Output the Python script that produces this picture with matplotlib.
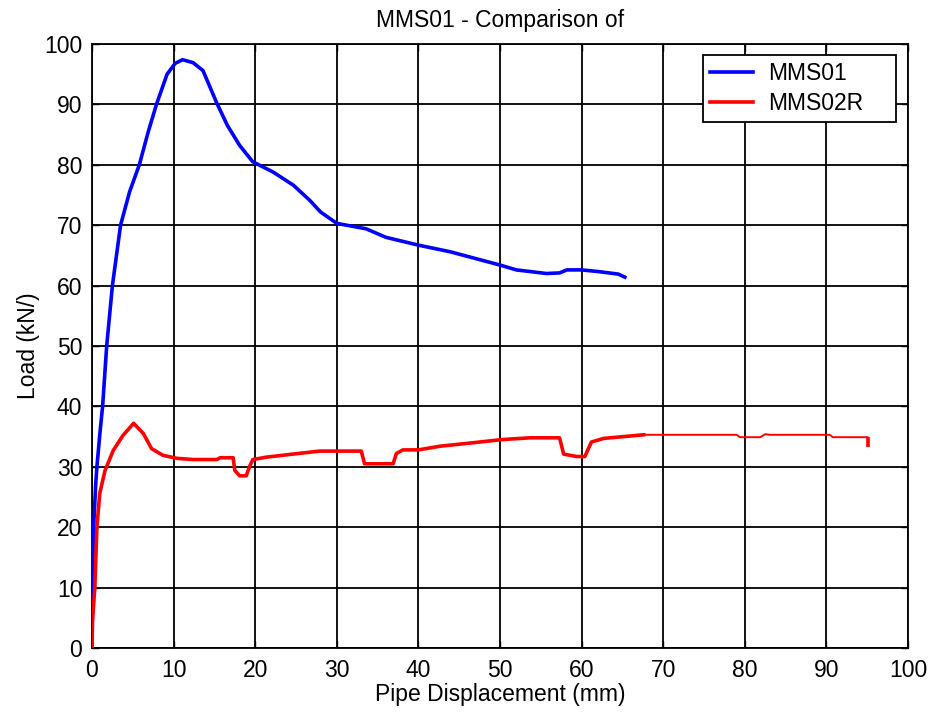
import matplotlib
matplotlib.use('Agg')
import matplotlib.pyplot as plt
import numpy as np

# MMS01 (blue)
mms01_x = [0, 0.05, 0.1, 0.2, 0.45, 0.6, 1.0, 1.3, 1.8, 2.5, 3.5, 4.6, 5.8, 6.9, 7.9,
           9.2, 10.2, 11.1, 12.4, 13.6, 15.3, 16.6, 18.1, 19.7, 22.2, 24.7, 26.7, 28.0,
           30.0, 33.6, 36.0, 40.0, 43.9, 50.0, 52.0, 55.7, 57.3, 58.2, 60.0, 62.2, 64.5, 65.3]
mms01_y = [0, 5, 12, 20, 27, 30, 36, 40, 50, 60, 70, 75.5, 80, 85.5, 90,
           95, 96.8, 97.4, 96.9, 95.6, 90.2, 86.5, 83.2, 80.5, 78.8, 76.6, 74.1, 72.2,
           70.3, 69.4, 68.0, 66.7, 65.6, 63.4, 62.6, 62.0, 62.1, 62.6, 62.6, 62.3, 61.9, 61.4]

# MMS02R (red)
mms02r_x = [-0.4, 0, 0.05, 0.35, 0.6, 0.95, 1.6, 2.6, 3.8, 5.1, 6.3, 7.3, 8.7, 10.4,
            12.4, 15.3, 15.7, 17.3, 17.5, 18.1, 18.9, 19.3, 19.7, 21.4, 24.6, 27.9,
            33.0, 33.4, 36.9, 37.3, 38.1, 40.0, 42.6, 47.5, 50.2, 53.7, 57.3, 57.8,
            59.4, 60.4, 61.2, 62.7, 67.6, 74.5, 79.0, 79.4, 81.9, 82.5, 83.1, 90.4,
            90.8, 95.1, 95.1]
mms02r_y = [0, 0, 4.3, 10.1, 20, 25.6, 29.4, 32.7, 35.2, 37.2, 35.5, 33.0, 31.9, 31.4,
            31.2, 31.2, 31.5, 31.5, 29.4, 28.5, 28.5, 30.0, 31.2, 31.6, 32.1, 32.6,
            32.6, 30.5, 30.5, 32.2, 32.8, 32.8, 33.4, 34.1, 34.5, 34.8, 34.8, 32.1,
            31.7, 31.7, 34.1, 34.7, 35.3, 35.3, 35.3, 34.9, 34.9, 35.4, 35.3, 35.3,
            34.9, 34.9, 33.3]

x_ticks = np.arange(0, 101, 10)
y_ticks = np.arange(0, 101, 10)

plt.rcParams['font.family'] = ['Liberation Sans', 'DejaVu Sans']

fig = plt.figure(figsize=(9.34, 7.17), dpi=100)
ax = fig.add_axes([92 / 934, (717 - 648) / 717, 816 / 934, 604 / 717])

rx = np.array(mms02r_x)
ry = np.array(mms02r_y)
thick = rx <= 67.6
thin = rx >= 67.6
ax.plot(mms01_x, mms01_y, color='#0000ff', lw=2.6, label='MMS01', zorder=3)
ax.plot(rx[thick], ry[thick], color='#ff0000', lw=2.6, label='MMS02R', zorder=3)
ax.plot(rx[thin], ry[thin], color='#ff0000', lw=1.4, zorder=3, solid_capstyle='butt')
ax.plot(rx[-2:], ry[-2:], color='#ff0000', lw=2.6, zorder=3, solid_capstyle='butt')

ax.set_xlim(0, 100)
ax.set_ylim(0, 100)
ax.set_xticks(x_ticks)
ax.set_yticks(y_ticks)
ax.grid(True, color='black', lw=1.3, ls='-')
ax.tick_params(direction='in', length=5, width=1, labelsize=16.5, top=True, right=True)
ax.tick_params(axis='x', pad=8)
ax.tick_params(axis='y', pad=7)
for s in ax.spines.values():
    s.set_linewidth(1.3)

ax.set_xlabel('Pipe Displacement (mm)', fontsize=16.5, labelpad=1)
ax.set_ylabel('Load (kN/)', fontsize=16.5, labelpad=3)
ax.set_title('MMS01 - Comparison of', fontsize=16.5, pad=12)

leg = ax.legend(loc='upper right', fontsize=16.5, frameon=True, fancybox=False,
                edgecolor='black', framealpha=1, borderpad=0.3, handlelength=1.9,
                labelspacing=0.3, handletextpad=0.65, borderaxespad=0, mode='expand',
                bbox_to_anchor=((703 - 92) / 816, 0, 193 / 816, 1 - 11 / 604))
leg.get_frame().set_linewidth(1.3)

fig.savefig('out.png', dpi=100)
